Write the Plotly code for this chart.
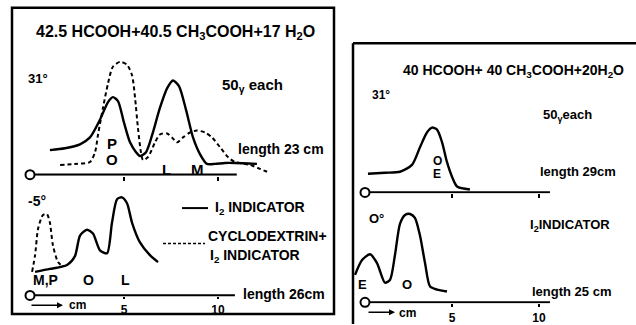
import plotly.graph_objects as go

W, H = 636, 325

# ---------------- data (x in cm, y in relative detector units) ----------------
# Left, top panel: 42.5 HCOOH + 40.5 CH3COOH + 17 H2O, 31 deg
tl_solid_x = [1.06, 1.86, 2.66, 3.19, 3.72, 4.15, 4.41, 4.68, 5.00, 5.32, 5.64, 5.85, 6.17, 6.49,
              6.91, 7.29, 7.61, 7.93, 8.30, 8.67, 9.04, 9.41, 9.84, 10.37, 10.90, 12.07]
tl_solid_y = [2.5, 2.7, 3.1, 3.8, 5.6, 7.4, 7.9, 7.5, 5.3, 3.3, 2.3, 1.9, 2.3, 4.0,
              6.8, 8.8, 9.6, 9.0, 6.6, 3.8, 2.1, 1.1, 1.1, 1.2, 1.2, 1.1]
tl_dash_x = [1.60, 2.39, 3.19, 3.46, 3.62, 3.88, 4.15, 4.41, 4.79, 5.16, 5.43, 5.59, 5.74, 5.90,
             6.01, 6.28, 6.65, 6.91, 7.29, 7.55, 7.82, 8.14, 8.51, 8.88, 9.31, 9.68, 10.11,
             10.53, 10.90, 11.70, 12.23, 12.61]
tl_dash_y = [1.0, 1.1, 1.3, 2.3, 4.1, 6.8, 9.3, 11.0, 11.5, 11.2, 10.1, 7.8, 4.8, 2.3,
             1.5, 1.8, 3.3, 4.1, 4.2, 3.8, 3.3, 3.8, 4.3, 4.5, 4.3, 3.8, 2.8,
             1.8, 1.3, 1.0, 0.6, 0.3]
tl_axis_len = 11.0

# Left, bottom panel: -5 deg
bl_solid_x = [0.27, 1.06, 1.97, 2.39, 2.66, 3.03, 3.35, 3.72, 4.10, 4.36, 4.63, 4.89, 5.16,
              5.43, 5.85, 6.38, 6.81]
bl_solid_y = [2.4, 2.7, 3.1, 4.0, 6.1, 6.7, 6.3, 4.6, 4.3, 7.4, 9.8, 10.0, 9.4,
              7.4, 5.4, 4.1, 3.4]
bl_dash_x = [0.11, 0.27, 0.43, 0.69, 0.90, 1.06, 1.22, 1.49, 1.76]
bl_dash_y = [2.4, 4.1, 6.8, 8.2, 8.3, 7.4, 5.1, 3.4, 2.9]
bl_axis_len = 10.9

# Right, top panel: 40 HCOOH + 40 CH3COOH + 20 H2O, 31 deg
tr_x = [0.17, 1.15, 2.01, 2.70, 3.16, 3.56, 3.85, 4.14, 4.43, 4.71, 5.00, 5.29, 6.03]
tr_y = [1.9, 2.0, 2.1, 2.8, 4.6, 6.1, 6.6, 6.4, 5.1, 3.1, 1.6, 0.6, 0.3]
tr_axis_len = 10.63

# Right, bottom panel: 0 deg
br_x = [-0.57, -0.17, 0.29, 0.69, 1.15, 1.44, 1.72, 2.01, 2.30, 2.59, 2.87, 3.16, 3.45,
        3.74, 4.14, 4.71]
br_y = [2.8, 4.3, 4.9, 4.0, 2.0, 2.3, 4.8, 8.0, 8.9, 9.0, 8.6, 6.8, 4.0,
        1.6, 1.3, 1.1]
br_axis_len = 10.63

tick_vals = [5, 10]
tick_text = ["5", "10"]

FONT = "Liberation Sans"


def X(px):
    return px / W


def Y(py):
    return 1 - py / H


fig = go.Figure()


def curve(x, y, xa, ya, dash="solid", width=2.4):
    fig.add_trace(go.Scatter(
        x=x, y=y, mode="lines", xaxis=xa, yaxis=ya, showlegend=False, hoverinfo="skip",
        line=dict(color="black", width=width, dash=dash, shape="spline", smoothing=0.7)))


def baseline(length, xa, ya):
    fig.add_trace(go.Scatter(
        x=[0, length], y=[0, 0], mode="lines", xaxis=xa, yaxis=ya, showlegend=False,
        hoverinfo="skip", line=dict(color="black", width=2.2)))
    fig.add_trace(go.Scatter(
        x=[0], y=[0], mode="markers", xaxis=xa, yaxis=ya, showlegend=False, hoverinfo="skip",
        cliponaxis=False,
        marker=dict(symbol="circle", size=9, color="white", line=dict(color="black", width=2))))


# traces
baseline(tl_axis_len, "x", "y")
curve(tl_dash_x, tl_dash_y, "x", "y", dash="4px,3px", width=2.0)
curve(tl_solid_x, tl_solid_y, "x", "y")

baseline(bl_axis_len, "x2", "y2")
curve(bl_dash_x, bl_dash_y, "x2", "y2", dash="4px,3px", width=2.0)
curve(bl_solid_x, bl_solid_y, "x2", "y2")

baseline(tr_axis_len, "x3", "y3")
curve(tr_x, tr_y, "x3", "y3")

baseline(br_axis_len, "x4", "y4")
curve(br_x, br_y, "x4", "y4")

# axes
left_px_per_cm = 18.8
right_px_per_cm = 17.4
lx0, rx0 = 30, 365


def xax(x_origin, scale, dom_px, labels, anchor, ticklen=4):
    return dict(
        domain=[X(dom_px[0]), X(dom_px[1])],
        range=[(dom_px[0] - x_origin) / scale, (dom_px[1] - x_origin) / scale],
        anchor=anchor, showgrid=False, zeroline=False, showline=False,
        tickvals=tick_vals, ticktext=tick_text, ticks="outside", ticklen=ticklen, tickwidth=2,
        tickcolor="black", showticklabels=labels,
        tickfont=dict(family=FONT, size=12, color="black", weight="bold"), fixedrange=True)


def yax(base_py, top_py, scale=10.0):
    return dict(
        domain=[Y(base_py + 1), Y(top_py)],
        range=[-1 / scale, (base_py - top_py) / scale],
        visible=False, fixedrange=True)


fig.update_layout(
    xaxis=xax(lx0, left_px_per_cm, (12, 334), False, "y"),
    yaxis=yax(178, 50),
    xaxis2=xax(lx0, left_px_per_cm, (12, 334), True, "y2", 2),
    yaxis2=yax(301, 190),
    xaxis3=xax(rx0, right_px_per_cm, (353, 636), False, "y3"),
    yaxis3=yax(196, 100),
    xaxis4=xax(rx0, right_px_per_cm, (353, 636), True, "y4", 3),
    yaxis4=yax(308, 205),
)

# frames and legend samples
shapes = [
    dict(type="rect", xref="paper", yref="paper", x0=X(12), x1=X(334), y0=Y(320), y1=Y(8),
         line=dict(color="black", width=2.5)),
    dict(type="line", xref="paper", yref="paper", x0=X(353), x1=X(353), y0=Y(330), y1=Y(44),
         line=dict(color="black", width=2.5)),
    dict(type="line", xref="paper", yref="paper", x0=X(353), x1=X(640), y0=Y(44), y1=Y(44),
         line=dict(color="black", width=2.5)),
    dict(type="line", xref="paper", yref="paper", x0=X(182), x1=X(208), y0=Y(212), y1=Y(212),
         line=dict(color="black", width=2)),
    dict(type="line", xref="paper", yref="paper", x0=X(163), x1=X(205), y0=Y(248), y1=Y(248),
         line=dict(color="black", width=1.5, dash="3px,2px")),
]

ann = []


def txt(text, px, py, size=13, anchor="center"):
    ann.append(dict(text=text, x=X(px), y=Y(py), xref="paper", yref="paper", showarrow=False,
                    xanchor=anchor, yanchor="middle",
                    font=dict(family=FONT, size=size, color="black", weight="bold")))


def arrow(px0, px1, py):
    ann.append(dict(x=X(px1), y=Y(py), ax=-(px1 - px0), ay=0, xref="paper", yref="paper",
                    axref="pixel", ayref="pixel", text="", showarrow=True, arrowhead=2,
                    arrowsize=0.8, arrowwidth=1.5, arrowcolor="black"))


# left panel texts
txt("42.5 HCOOH+40.5 CH<sub>3</sub>COOH+17 H<sub>2</sub>O", 175, 33, 16)
txt("31°", 38, 80, 13)
txt("50<sub>γ</sub> each", 252, 87, 15)
txt("length 23 cm", 281, 152, 14)
txt("P", 112, 146, 15)
txt("O", 112, 163, 15)
txt("L", 166, 173, 15)
txt("M", 197, 173, 15)
txt("-5°", 37, 205, 14)
txt("I<sub>2</sub> INDICATOR", 213, 212, 14, "left")
txt("CYCLODEXTRIN+", 206, 240, 14, "left")
txt("I<sub>2</sub> INDICATOR", 208, 261, 14, "left")
txt("M,P", 45, 285, 14)
txt("O", 88, 285, 14)
txt("L", 125, 285, 14)
txt("length 26cm", 284, 300, 14)
txt("cm", 77, 311, 12)
arrow(30, 63, 311)

# right panel texts
txt("40 HCOOH+ 40 CH<sub>3</sub>COOH+20H<sub>2</sub>O", 513, 72, 14)
txt("31°", 381, 97, 12)
txt("50<sub>γ</sub>each", 567, 118, 13)
txt("length 29cm", 578, 175, 13)
txt("O", 437, 164, 12)
txt("E", 437, 177, 12)
txt("O°", 376, 223, 13)
txt("I<sub>2</sub>INDICATOR", 570, 230, 13)
txt("length 25 cm", 571, 297, 13)
txt("E", 362, 290, 13)
txt("O", 407, 290, 13)
txt("cm", 407, 319, 12)
arrow(367, 395, 318)

fig.update_layout(
    width=W, height=H, margin=dict(l=0, r=0, t=0, b=0),
    paper_bgcolor="white", plot_bgcolor="rgba(0,0,0,0)",
    shapes=shapes, annotations=ann, showlegend=False,
)

fig.write_html("out.html", config={"displayModeBar": False},
               post_script="document.body.style.margin='0';document.body.style.overflow='hidden';")
